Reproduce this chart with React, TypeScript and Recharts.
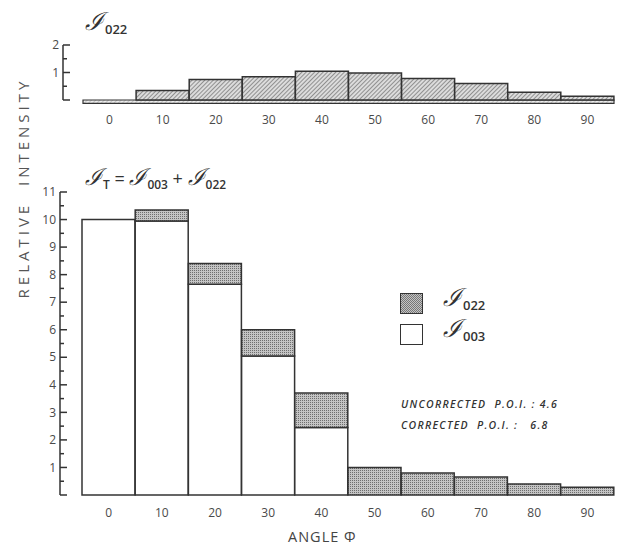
import { BarChart, Bar, XAxis, YAxis, ReferenceArea } from 'recharts';

const angles = ['0', '10', '20', '30', '40', '50', '60', '70', '80', '90'];
// upper panel: I022 alone
const topI022 = [0, 0.35, 0.75, 0.85, 1.05, 0.98, 0.78, 0.6, 0.28, 0.14];
// lower panel: stacked I003 + I022
const i003 = [10.0, 9.95, 7.65, 5.05, 2.45, 0, 0, 0, 0, 0];
const i022 = [0, 0.4, 0.75, 0.95, 1.25, 1.0, 0.8, 0.65, 0.4, 0.28];
const yTicksTop = [0, 0.5, 1, 1.5, 2];
const yTicksMain = [0, 0.5, 1, 1.5, 2, 2.5, 3, 3.5, 4, 4.5, 5, 5.5, 6, 6.5, 7, 7.5, 8, 8.5, 9, 9.5, 10, 10.5, 11];

const topData = angles.map((a, i) => ({ angle: a, i022: topI022[i] }));
const mainData = angles.map((a, i) => ({ angle: a, i003: i003[i], i022: i022[i] }));

const font = '"Open Sans", "DejaVu Sans", sans-serif';
const ink = '#333';
const textInk = '#4a4a4a';

function AxisTick(props: any) {
    const { x, y, payload } = props;
    const v = payload.value;
    const major = Number.isInteger(v);
    return (
        <g>
            <line x1={x} y1={y} x2={x + (major ? 7 : 4)} y2={y} stroke={ink} strokeWidth={1.5} />
            {major && v > 0 && (
                <text x={x - 4} y={y} dy="0.35em" textAnchor="end" fontSize={12} fill={textInk} fontFamily={font}>
                    {v}
                </text>
            )}
        </g>
    );
}

function ScriptI({ sub, size = 25 }: { sub: string; size?: number }) {
    return (
        <span>
            <span style={{ fontFamily: '"DejaVu Serif", serif', fontStyle: 'italic', fontWeight: 300, fontSize: size }}>ℐ</span>
            <span style={{ fontSize: size * 0.52, fontFamily: font, fontWeight: 600, position: 'relative', top: size * 0.16, marginLeft: 1 }}>{sub}</span>
        </span>
    );
}

const abs = (left: number, top: number): React.CSSProperties => ({
    position: 'absolute', left, top, color: '#333', whiteSpace: 'nowrap', lineHeight: 1
});

export default function App() {
    return (
        <div style={{ position: 'absolute', left: 0, top: 0, width: 624, height: 551, background: '#fff', fontFamily: font }}>
            <div style={{ position: 'absolute', left: 0, top: 0 }}>
                <BarChart width={624} height={140} data={topData} margin={{ top: 45, right: 10, left: 23, bottom: 10 }} barCategoryGap={0} barGap={0}>
                    <defs>
                        <pattern id="hatch" width="3" height="3" patternUnits="userSpaceOnUse" patternTransform="rotate(45)">
                            <rect width="3" height="3" fill="#dcdcdc" />
                            <line x1="0" y1="0" x2="0" y2="3" stroke="#666" strokeWidth="1.3" />
                        </pattern>
                    </defs>
                    <XAxis dataKey="angle" axisLine={false} tickLine={false} interval={0} padding={{ left: 20, right: 0 }}
                        tickMargin={9} tick={{ fontSize: 12, fill: textInk, fontFamily: font }} height={30} />
                    <YAxis domain={[0, 2]} ticks={yTicksTop} width={40} tickSize={0} tickMargin={0} tickLine={false}
                        axisLine={{ stroke: ink, strokeWidth: 1.5 }} tick={<AxisTick />} interval={0} />
                    <ReferenceArea x1="0" x2="90" y1={-0.12} y2={0} ifOverflow="visible" fill="url(#hatch)" stroke={ink} strokeWidth={1.2} />
                    <Bar dataKey="i022" fill="url(#hatch)" stroke={ink} strokeWidth={1.5} isAnimationActive={false} />
                </BarChart>
            </div>
            <div style={{ position: 'absolute', left: 0, top: 150 }}>
                <BarChart width={624} height={401} data={mainData} margin={{ top: 42, right: 10, left: 20, bottom: 26 }} barCategoryGap={0} barGap={0}>
                    <defs>
                        <pattern id="stipple" width="2" height="2" patternUnits="userSpaceOnUse">
                            <rect width="2" height="2" fill="#c4c4c4" />
                            <rect width="1" height="1" fill="#6e6e6e" />
                        </pattern>
                    </defs>
                    <XAxis dataKey="angle" axisLine={false} tickLine={false} interval={0} padding={{ left: 22, right: 0 }}
                        tickMargin={7} tick={{ fontSize: 12, fill: textInk, fontFamily: font }} height={30} />
                    <YAxis domain={[0, 11]} ticks={yTicksMain} width={40} tickSize={0} tickMargin={0} tickLine={false}
                        axisLine={{ stroke: ink, strokeWidth: 1.5 }} tick={<AxisTick />} interval={0} />
                    <Bar dataKey="i003" stackId="s" fill="#fff" stroke={ink} strokeWidth={1.5} isAnimationActive={false} />
                    <Bar dataKey="i022" stackId="s" fill="url(#stipple)" stroke={ink} strokeWidth={1.5} isAnimationActive={false} />
                </BarChart>
            </div>

            <div style={abs(85, 9)}><ScriptI sub="022" /></div>
            <div style={{ ...abs(85, 166), fontSize: 18 }}>
                <ScriptI sub="T" size={23} /> = <ScriptI sub="003" size={23} /> + <ScriptI sub="022" size={23} />
            </div>

            <div style={{ position: 'absolute', left: 23, top: 188, transform: 'translate(-50%, -50%) rotate(-90deg)', fontSize: 15, letterSpacing: 4, color: '#555', whiteSpace: 'nowrap' }}>
                RELATIVE&nbsp;&nbsp;INTENSITY
            </div>

            <div style={{ position: 'absolute', left: 400, top: 293, width: 21, height: 19, border: `1.5px solid ${ink}`, background: 'repeating-conic-gradient(#777 0 25%, #c4c4c4 0 50%) 0 0 / 2px 2px' }} />
            <div style={abs(443, 285)}><ScriptI sub="022" /></div>
            <div style={{ position: 'absolute', left: 400, top: 324, width: 21, height: 19, border: `1.5px solid ${ink}`, background: '#fff' }} />
            <div style={abs(443, 316)}><ScriptI sub="003" /></div>

            <div style={{ ...abs(401, 399), fontSize: 10.5, fontStyle: 'italic', fontWeight: 600, letterSpacing: 1.3 }}>UNCORRECTED&nbsp;&nbsp;P.O.I. : 4.6</div>
            <div style={{ ...abs(401, 420), fontSize: 10.5, fontStyle: 'italic', fontWeight: 600, letterSpacing: 1.3 }}>CORRECTED&nbsp;&nbsp;P.O.I. :&nbsp;&nbsp; 6.8</div>

            <div style={{ ...abs(288, 530), fontSize: 14.5, letterSpacing: 1, color: '#444' }}>ANGLE Φ</div>
        </div>
    );
}
